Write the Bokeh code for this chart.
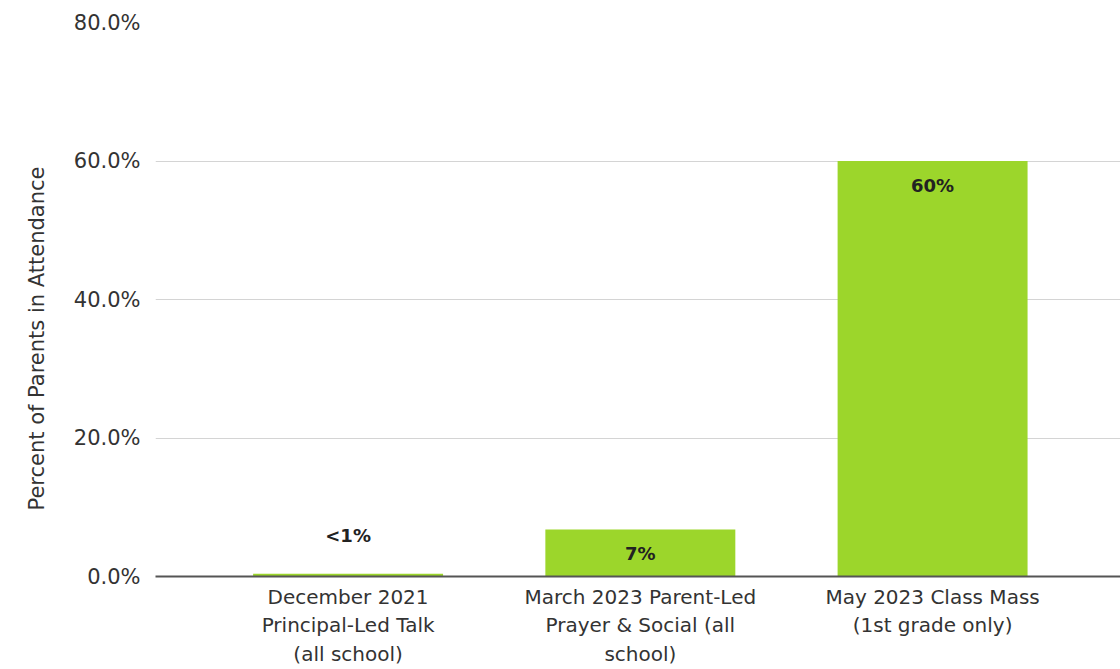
from bokeh.plotting import figure
from bokeh.models import Range1d, FixedTicker, NumeralTickFormatter, ColumnDataSource, Title
from bokeh.core.properties import value
from bokeh.embed import file_html
from bokeh.resources import INLINE

categories = [
    "December 2021\nPrincipal-Led Talk\n(all school)",
    "March 2023 Parent-Led\nPrayer & Social (all\nschool)",
    "May 2023 Class Mass\n(1st grade only)",
]
values = [0.004, 0.068, 0.60]
labels = ["<1%", "7%", "60%"]
y_ticks = [0.0, 0.2, 0.4, 0.6, 0.8]
y_title = "Percent of Parents in Attendance"

FONT = "DejaVu Sans"
xs = list(range(len(categories)))
y_off = [24 if v > 0.03 else -38 for v in values]

src = ColumnDataSource(dict(x=xs, top=values, label=labels, yoff=y_off))

p = figure(width=1120, height=669, output_backend="svg", toolbar_location=None,
           x_range=Range1d(-0.659, 2.643), y_range=Range1d(0, 0.8),
           min_border_left=155, min_border_right=0, min_border_top=22, min_border_bottom=93)
p.outline_line_color = None
p.background_fill_color = "white"
p.border_fill_color = "white"

p.vbar(x="x", top="top", bottom=0, width=0.65, source=src,
       fill_color="#9CD62B", line_color=None)

p.text(x="x", y="top", text="label", y_offset="yoff", source=src,
       text_align="center", text_baseline="middle",
       text_font=value(FONT), text_font_style="bold", text_font_size="18px",
       text_color="#222222")

p.xgrid.grid_line_color = None
p.ygrid.grid_line_color = "#d4d4d4"
p.ygrid.grid_line_width = 1

p.xaxis.ticker = FixedTicker(ticks=xs)
p.xaxis.major_label_overrides = {i: c for i, c in zip(xs, categories)}
p.xaxis.major_label_text_font = FONT
p.xaxis.major_label_text_font_size = "20px"
p.xaxis.major_label_text_color = "#333333"
p.xaxis.major_tick_line_color = None
p.xaxis.major_tick_out = 0
p.xaxis.minor_tick_line_color = None
p.xaxis.minor_tick_out = 0
p.xaxis.major_label_standoff = 8
p.xaxis.axis_line_color = "#555555"
p.xaxis.axis_line_width = 2

p.yaxis.ticker = FixedTicker(ticks=y_ticks)
p.yaxis.formatter = NumeralTickFormatter(format="0.0%")
p.yaxis.major_label_text_font = FONT
p.yaxis.major_label_text_font_size = "21px"
p.yaxis.major_label_text_color = "#333333"
p.yaxis.major_tick_line_color = None
p.yaxis.major_tick_out = 0
p.yaxis.minor_tick_line_color = None
p.yaxis.minor_tick_out = 0
p.yaxis.axis_line_color = None
p.yaxis.major_label_standoff = 15

ttl = Title(text=y_title, align="left", offset=66, standoff=44,
            text_font=FONT, text_font_size="21px", text_font_style="normal",
            text_color="#333333")
p.add_layout(ttl, "left")

open("out.html", "w").write(file_html(p, INLINE))
